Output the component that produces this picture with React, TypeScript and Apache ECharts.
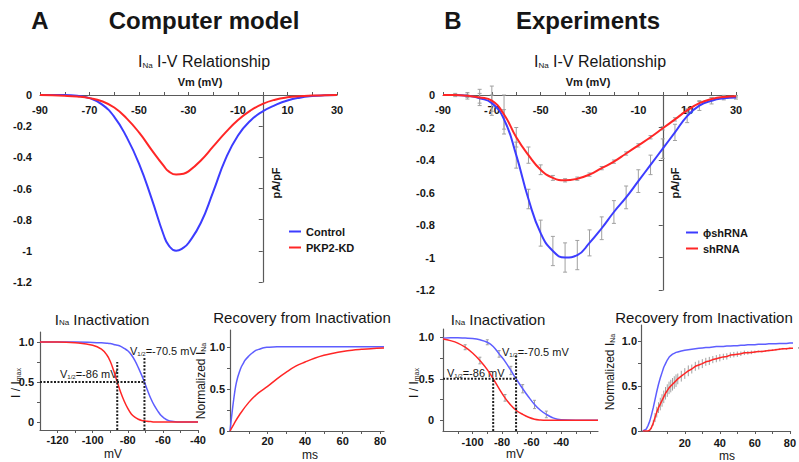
import React, { useEffect, useRef } from 'react';
import * as echarts from 'echarts';

const FONT = "Arial, 'Liberation Sans', Helvetica, sans-serif";
const BLUE = '#3c3cff';
const RED = '#ff2626';
const BLUE_L = '#5e5eff';
const GREY = '#a0a0a0';
const INK = '#161616';
const AXIS = '#5a5a5a';

// ---------- A: Computer model, I-V relationship ----------
const ivA_V = [-90, -80, -75, -70, -65, -60, -55, -50, -45, -40, -38, -35, -32, -30, -25, -20, -15, -10, -5, 0, 5, 10, 15, 20, 25, 30];
const ivA_control = [0, 0, -0.005, -0.02, -0.06, -0.14, -0.27, -0.44, -0.66, -0.9, -0.965, -1.0, -0.98, -0.95, -0.82, -0.62, -0.41, -0.26, -0.165, -0.105, -0.065, -0.035, -0.017, -0.007, -0.002, 0];
const ivA_pkp2 = [0, -0.005, -0.01, -0.02, -0.04, -0.08, -0.15, -0.24, -0.35, -0.455, -0.49, -0.51, -0.505, -0.49, -0.42, -0.33, -0.24, -0.16, -0.1, -0.057, -0.03, -0.015, -0.008, -0.004, -0.001, 0];

// ---------- B: Experiments, I-V relationship ----------
const ivB_V = [-90, -85, -80, -75, -70, -65, -60, -55, -50, -45, -40, -35, -30, -25, -20, -15, -10, -5, 0, 5, 10, 15, 20, 25, 30];
const ivB_phi = [0, 0, -0.005, -0.02, -0.05, -0.15, -0.37, -0.64, -0.85, -0.96, -1.0, -0.985, -0.91, -0.82, -0.72, -0.63, -0.53, -0.43, -0.33, -0.23, -0.13, -0.065, -0.035, -0.02, -0.015];
const ivB_phiErr = [0, 0, 0.01, 0.03, 0.05, 0.06, 0.08, 0.06, 0.08, 0.09, 0.09, 0.09, 0.08, 0.07, 0.07, 0.07, 0.07, 0.06, 0.06, 0.05, 0.04, 0.03, 0.02, 0.01, 0.01];
const ivB_sh = [0, 0, -0.005, -0.015, -0.035, -0.12, -0.26, -0.37, -0.46, -0.51, -0.525, -0.515, -0.49, -0.45, -0.41, -0.36, -0.31, -0.26, -0.205, -0.15, -0.095, -0.05, -0.025, -0.012, -0.008];
const ivB_shErr = [0, 0.01, 0.02, 0.05, 0.09, 0.12, 0.06, 0.05, 0.03, 0.015, 0.01, 0.01, 0.01, 0.01, 0.01, 0.01, 0.01, 0.01, 0.01, 0.01, 0.01, 0.01, 0.01, 0.01, 0.005];

const ivTicks = [-90, -80, -70, -60, -50, -40, -30, -20, -10, 0, 10, 20, 30];
const ivLabels = [-90, -70, -50, -30, -10, 10, 30];
const ivYTicks = [-1.2, -1, -0.8, -0.6, -0.4, -0.2, 0];

// ---------- A: Inactivation ----------
const inA_V = [-130, -120, -110, -100, -95, -92, -90, -88, -86, -84, -82, -80, -78, -76, -74, -72, -70.5, -69, -67, -65, -63, -61, -59, -57, -55, -50, -40];
const inA_control = [1, 1, 1, 0.995, 0.99, 0.985, 0.98, 0.97, 0.96, 0.945, 0.92, 0.89, 0.84, 0.77, 0.68, 0.58, 0.5, 0.41, 0.3, 0.21, 0.14, 0.08, 0.045, 0.02, 0.01, 0, 0];
const inA_pkp2 = [1, 1, 0.99, 0.96, 0.91, 0.84, 0.76, 0.64, 0.5, 0.37, 0.26, 0.17, 0.1, 0.06, 0.035, 0.02, 0.015, 0.01, 0.005, 0, 0, 0, 0, 0, 0, 0, 0];
const inA_xTicks = [-120, -110, -100, -90, -80, -70, -60, -50, -40];
const inA_xLabels = [-120, -100, -80, -60, -40];

// ---------- B: Inactivation ----------
const inB_V = [-120, -115, -110, -105, -100, -95, -90, -86, -82, -78, -74, -70.5, -66, -62, -58, -54, -50, -45, -40, -30, -15];
const inB_phi = [0.99, 0.995, 0.995, 0.99, 0.985, 0.97, 0.94, 0.89, 0.8, 0.71, 0.6, 0.5, 0.38, 0.28, 0.19, 0.12, 0.07, 0.025, 0.005, 0, 0];
const inB_phiErr = [0, 0, 0, 0, 0, 0, 0.03, 0, 0.04, 0, 0.05, 0, 0.05, 0, 0.05, 0, 0.04, 0, 0, 0, 0];
const inB_sh = [0.98, 0.96, 0.93, 0.88, 0.81, 0.72, 0.61, 0.5, 0.38, 0.27, 0.18, 0.12, 0.07, 0.035, 0.012, 0.003, 0, 0, 0, 0, 0];
const inB_shErr = [0, 0, 0, 0.03, 0, 0.04, 0, 0, 0, 0.04, 0, 0.03, 0, 0, 0, 0, 0, 0, 0, 0, 0];
const inB_xTicks = [-110, -100, -90, -80, -70, -60, -50, -40, -30, -20];
const inB_xLabels = [-100, -80, -60, -40];

const inYTicks = [0, 0.25, 0.5, 0.75, 1];
const inYLabels = [0, 0.5, 1];

// V1/2 markers
const halfV = [-86, -70.5];
const inA_dashTop = [0.75, 0.8];
const inB_dashTop = [0.5, 0.78];

// ---------- A: Recovery from inactivation ----------
const recA_T = [0, 1, 2, 3, 4, 5, 6, 7, 8, 10, 12, 14, 16, 18, 20, 25, 30, 40, 50, 60, 70, 82];
const recA_control = [0, 0.2, 0.38, 0.53, 0.63, 0.7, 0.76, 0.8, 0.84, 0.89, 0.93, 0.96, 0.975, 0.99, 0.995, 1, 1, 1, 1, 1, 1, 1];
const recA_pkp2T = [0, 2, 5, 10, 15, 20, 25, 30, 35, 40, 45, 50, 55, 60, 65, 70, 75, 82];
const recA_pkp2 = [0, 0.08, 0.19, 0.34, 0.45, 0.53, 0.62, 0.7, 0.77, 0.82, 0.865, 0.9, 0.925, 0.945, 0.96, 0.97, 0.978, 0.985];

// ---------- B: Recovery from inactivation ----------
const recB_T = [-4, -2, -1, 0, 1, 2, 3, 4, 5, 6, 7, 8, 9, 10, 11, 12, 13, 14, 15, 16, 18, 20, 22, 24, 26, 28, 30, 32, 34, 36, 38, 40, 42, 44, 46, 48, 50, 52, 54, 56, 58, 60, 62, 64, 66, 68, 70, 72, 74, 76, 78, 80, 85];
const recB_phi = [0, 0.02, 0.06, 0.11, 0.18, 0.26, 0.35, 0.44, 0.52, 0.59, 0.65, 0.71, 0.75, 0.79, 0.82, 0.84, 0.855, 0.865, 0.875, 0.88, 0.89, 0.9, 0.905, 0.91, 0.915, 0.92, 0.925, 0.93, 0.93, 0.935, 0.94, 0.94, 0.94, 0.945, 0.945, 0.95, 0.95, 0.955, 0.955, 0.96, 0.96, 0.96, 0.965, 0.965, 0.965, 0.97, 0.97, 0.97, 0.975, 0.975, 0.975, 0.98, 0.98];
const recB_sh = [0, 0, 0, 0.01, 0.04, 0.09, 0.15, 0.21, 0.26, 0.3, 0.34, 0.38, 0.42, 0.45, 0.48, 0.5, 0.52, 0.54, 0.56, 0.58, 0.61, 0.64, 0.67, 0.69, 0.72, 0.735, 0.75, 0.77, 0.78, 0.795, 0.805, 0.815, 0.825, 0.83, 0.845, 0.85, 0.855, 0.86, 0.87, 0.87, 0.875, 0.88, 0.885, 0.885, 0.89, 0.895, 0.9, 0.905, 0.91, 0.915, 0.915, 0.92, 0.925];
const recB_shErr = [0, 0, 0, 0.01, 0.02, 0.03, 0.05, 0.06, 0.06, 0.07, 0.07, 0.07, 0.07, 0.07, 0.07, 0.07, 0.07, 0.07, 0.07, 0.06, 0.06, 0.06, 0.06, 0.05, 0.05, 0.05, 0.05, 0.045, 0.045, 0.04, 0.04, 0.04, 0.035, 0.035, 0.03, 0.03, 0.03, 0.025, 0.025, 0.02, 0.02, 0.015, 0.01, 0.01, 0.01, 0.01, 0.01, 0.01, 0.01, 0.01, 0.01, 0.01, 0.01];

const recTicks = [10, 20, 30, 40, 50, 60, 70, 80];
const recLabels = [20, 40, 60, 80];
const recYLabels = [0, 0.5, 1];

const zip = (xs: number[], ys: number[]) => xs.map((x, i) => [x, ys[i]]);
const errData = (xs: number[], ys: number[], es: number[]) =>
  xs.map((x, i) => [x, ys[i] - es[i], ys[i] + es[i], es[i]]).filter((d) => d[3] > 0);

function mkAxis(o: any) {
  const label: any = {
    show: true,
    margin: o.margin,
    inside: !!o.inside,
    formatter: o.fmt,
    fontFamily: FONT,
    fontSize: o.fontSize ?? 11,
    fontWeight: 'bold',
    color: INK,
    hideOverlap: false,
    showMinLabel: true,
    showMaxLabel: true,
  };
  if (o.labels) label.customValues = o.labels;
  return {
    type: 'value',
    gridIndex: o.grid,
    min: o.min,
    max: o.max,
    position: o.position,
    splitLine: { show: false },
    axisLine: { show: true, onZero: !!o.onZero, lineStyle: { color: AXIS, width: 1.2 } },
    axisTick: { show: true, customValues: o.ticks, length: o.tickLen ?? 3, lineStyle: { color: AXIS, width: 1 } },
    axisLabel: label,
  };
}

const fmt1 = (v: number) => (Math.abs(v) < 1e-9 ? '0' : v.toFixed(1));
const fmtIV = (v: number) => String(+v.toFixed(1));

function lineSeries(name: string, x: number, y: number, data: number[][], color: string, width: number, smooth: boolean | number) {
  return {
    type: 'line',
    name,
    xAxisIndex: x,
    yAxisIndex: y,
    data,
    color,
    showSymbol: false,
    symbol: 'none',
    smooth,
    lineStyle: { color, width },
    z: 3,
    silent: true,
  };
}

function dashSeries(x: number, y: number, data: number[][]) {
  return {
    type: 'line',
    xAxisIndex: x,
    yAxisIndex: y,
    data,
    showSymbol: false,
    symbol: 'none',
    lineStyle: { color: '#202020', width: 2, type: [2, 1.5] },
    z: 4,
    silent: true,
  };
}

function errSeries(x: number, y: number, data: number[][], cap: number) {
  return {
    type: 'custom',
    xAxisIndex: x,
    yAxisIndex: y,
    data,
    z: 2,
    silent: true,
    encode: { x: 0, y: [1, 2] },
    renderItem: (_p: any, api: any) => {
      const xv = api.value(0);
      const a = api.coord([xv, api.value(1)]);
      const b = api.coord([xv, api.value(2)]);
      const st = { stroke: GREY, lineWidth: 1 };
      const children: any[] = [{ type: 'line', shape: { x1: a[0], y1: a[1], x2: b[0], y2: b[1] }, style: st }];
      if (cap > 0) {
        children.push({ type: 'line', shape: { x1: a[0] - cap, y1: a[1], x2: a[0] + cap, y2: a[1] }, style: st });
        children.push({ type: 'line', shape: { x1: b[0] - cap, y1: b[1], x2: b[0] + cap, y2: b[1] }, style: st });
      }
      return { type: 'group', children };
    },
  };
}

function txt(x: number, y: number, text: string, o: any = {}) {
  const size = o.size ?? 12;
  const weight = o.weight ?? 'normal';
  const align = o.align ?? 'center';
  const style: any = {
    text,
    fill: INK,
    fontSize: size,
    fontFamily: FONT,
    fontWeight: weight,
    align,
    textAlign: align,
    verticalAlign: 'middle',
    textVerticalAlign: 'middle',
  };
  if (o.sub) {
    const ss = o.subSize ?? Math.round(size * 0.55);
    style.rich = {
      m: { fontSize: size, fontFamily: FONT, fontWeight: weight, fill: INK, lineHeight: size + 4, verticalAlign: 'bottom' },
      s: { fontSize: ss, fontFamily: FONT, fontWeight: weight, fill: INK, lineHeight: ss + 1, verticalAlign: 'bottom' },
    };
  }
  return { type: 'text', x, y, rotation: o.rot ?? 0, silent: true, style };
}

function buildOption() {
  const grids = [
    { left: 40, top: 95, width: 297, height: 187 },
    { left: 443, top: 95, width: 293, height: 195 },
    { left: 40, top: 332, width: 158, height: 98 },
    { left: 230, top: 330, width: 154, height: 101 },
    { left: 443, top: 329, width: 155, height: 102 },
    { left: 641, top: 325, width: 158, height: 106 },
  ];

  const xAxis = [
    mkAxis({ grid: 0, min: -90, max: 30, position: 'top', onZero: true, inside: true, ticks: ivTicks, labels: ivLabels, margin: 9, tickLen: 3 }),
    mkAxis({ grid: 1, min: -90, max: 30, position: 'top', onZero: true, inside: true, ticks: ivTicks, labels: ivLabels, margin: 9, tickLen: 3 }),
    mkAxis({ grid: 2, min: -130, max: -40, position: 'bottom', ticks: inA_xTicks, labels: inA_xLabels, margin: 4 }),
    mkAxis({ grid: 3, min: 0, max: 82, position: 'bottom', ticks: recTicks, labels: recLabels, margin: 4 }),
    mkAxis({ grid: 4, min: -120, max: -15, position: 'bottom', ticks: inB_xTicks, labels: inB_xLabels, margin: 5 }),
    mkAxis({ grid: 5, min: -5, max: 80.4, position: 'bottom', ticks: recTicks, labels: recLabels, margin: 6 }),
  ];
  const yAxis = [
    mkAxis({ grid: 0, min: -1.2, max: 0, position: 'left', onZero: true, ticks: ivYTicks, labels: ivYTicks, margin: 8, fmt: fmtIV, tickLen: 4 }),
    mkAxis({ grid: 1, min: -1.2, max: 0, position: 'left', onZero: true, ticks: ivYTicks, labels: ivYTicks, margin: 8, fmt: fmtIV, tickLen: 4 }),
    mkAxis({ grid: 2, min: -0.1, max: 1.125, position: 'left', ticks: inYTicks, labels: inYLabels, margin: 6, fmt: fmt1 }),
    mkAxis({ grid: 3, min: 0, max: 1.2, position: 'left', ticks: inYTicks, labels: recYLabels, margin: 5, fmt: fmt1 }),
    mkAxis({ grid: 4, min: -0.13, max: 1.1, position: 'left', ticks: inYTicks, labels: inYLabels, margin: 9, fmt: fmt1 }),
    mkAxis({ grid: 5, min: 0, max: 1.18, position: 'left', ticks: inYTicks, labels: recYLabels, margin: 4, fmt: fmt1 }),
  ];

  const series: any[] = [
    // A I-V
    lineSeries('Control', 0, 0, zip(ivA_V, ivA_control), BLUE, 2, 0.5),
    lineSeries('PKP2-KD', 0, 0, zip(ivA_V, ivA_pkp2), RED, 2, 0.5),
    // B I-V
    errSeries(1, 1, errData(ivB_V, ivB_phi, ivB_phiErr), 2),
    errSeries(1, 1, errData(ivB_V, ivB_sh, ivB_shErr), 2),
    lineSeries('ϕshRNA', 1, 1, zip(ivB_V, ivB_phi), BLUE, 2, 0.5),
    lineSeries('shRNA', 1, 1, zip(ivB_V, ivB_sh), RED, 2, 0.5),
    // A inactivation
    lineSeries('Control inact', 2, 2, zip(inA_V, inA_control), BLUE_L, 1.5, 0.4),
    lineSeries('PKP2-KD inact', 2, 2, zip(inA_V, inA_pkp2), RED, 1.5, 0.4),
    dashSeries(2, 2, [[halfV[0], -0.1], [halfV[0], inA_dashTop[0]]]),
    dashSeries(2, 2, [[halfV[1], -0.1], [halfV[1], inA_dashTop[1]]]),
    dashSeries(2, 2, [[-130, 0.5], [halfV[1], 0.5]]),
    // A recovery
    lineSeries('Control rec', 3, 3, zip(recA_T, recA_control), BLUE_L, 1.5, 0.4),
    lineSeries('PKP2-KD rec', 3, 3, zip(recA_pkp2T, recA_pkp2), RED, 1.5, 0.4),
    // B inactivation
    errSeries(4, 4, errData(inB_V, inB_phi, inB_phiErr), 1.5),
    errSeries(4, 4, errData(inB_V, inB_sh, inB_shErr), 1.5),
    lineSeries('ϕshRNA inact', 4, 4, zip(inB_V, inB_phi), BLUE_L, 1.5, 0.4),
    lineSeries('shRNA inact', 4, 4, zip(inB_V, inB_sh), RED, 1.5, 0.4),
    dashSeries(4, 4, [[halfV[0], -0.13], [halfV[0], inB_dashTop[0]]]),
    dashSeries(4, 4, [[halfV[1], -0.13], [halfV[1], inB_dashTop[1]]]),
    dashSeries(4, 4, [[-120, 0.5], [halfV[1], 0.5]]),
    // B recovery
    errSeries(5, 5, errData(recB_T, recB_sh, recB_shErr), 0),
    lineSeries('ϕshRNA rec', 5, 5, zip(recB_T, recB_phi), BLUE_L, 1.5, false),
    lineSeries('shRNA rec', 5, 5, zip(recB_T, recB_sh), RED, 1.5, false),
  ];

  const legendText = { fontFamily: FONT, fontSize: 11, fontWeight: 'bold', color: INK };
  const legend = [
    { data: ['Control', 'PKP2-KD'], left: 289, top: 226, orient: 'vertical', icon: 'rect', itemWidth: 12, itemHeight: 2, itemGap: 5, selectedMode: false, textStyle: legendText, padding: 0 },
    { data: ['ϕshRNA', 'shRNA'], left: 686, top: 227, orient: 'vertical', icon: 'rect', itemWidth: 12, itemHeight: 2, itemGap: 5, selectedMode: false, textStyle: legendText, padding: 0 },
  ];

  const graphic = [
    txt(40, 20, 'A', { size: 24, weight: 'bold' }),
    txt(204, 20, 'Computer model', { size: 24, weight: 'bold' }),
    txt(453, 20, 'B', { size: 24, weight: 'bold' }),
    txt(588, 20, 'Experiments', { size: 24, weight: 'bold' }),
    txt(204, 59, '{m|I}{s|Na}{m| I-V Relationship}', { size: 16, sub: true, subSize: 8 }),
    txt(600, 59, '{m|I}{s|Na}{m| I-V Relationship}', { size: 16, sub: true, subSize: 8 }),
    txt(200, 82, 'Vm (mV)', { size: 11, weight: 'bold' }),
    txt(588, 82, 'Vm (mV)', { size: 11, weight: 'bold' }),
    txt(276, 183, 'pA/pF', { size: 11, weight: 'bold', rot: Math.PI / 2 }),
    txt(675, 183, 'pA/pF', { size: 11, weight: 'bold', rot: Math.PI / 2 }),
    txt(102, 317, '{m|I}{s|Na}{m| Inactivation}', { size: 15, sub: true, subSize: 8 }),
    txt(302, 317, 'Recovery from Inactivation', { size: 15 }),
    txt(498, 317, '{m|I}{s|Na}{m| Inactivation}', { size: 15, sub: true, subSize: 8 }),
    txt(704, 317, 'Recovery from Inactivation', { size: 15 }),
    txt(14, 383, '{m|I / I}{s|max}', { size: 12, sub: true, subSize: 7, rot: Math.PI / 2 }),
    txt(199, 381, '{m|Normalized I}{s|Na}', { size: 12, sub: true, subSize: 7, rot: Math.PI / 2 }),
    txt(412, 383, '{m|I / I}{s|max}', { size: 12, sub: true, subSize: 7, rot: Math.PI / 2 }),
    txt(608, 372, '{m|Normalized I}{s|Na}', { size: 12, sub: true, subSize: 7, rot: Math.PI / 2 }),
    txt(113, 454, 'mV', { size: 12 }),
    txt(310, 455, 'ms', { size: 12 }),
    txt(515, 454, 'mV', { size: 12 }),
    txt(727, 456, 'ms', { size: 12 }),
    txt(130, 349, '{m|V}{s|1/2}{m|=-70.5 mV}', { size: 11, sub: true, subSize: 6, align: 'left' }),
    txt(60, 372, '{m|V}{s|1/2}{m|=-86 mV}', { size: 11, sub: true, subSize: 6, align: 'left' }),
    txt(502, 350, '{m|V}{s|1/2}{m|=-70.5 mV}', { size: 11, sub: true, subSize: 6, align: 'left' }),
    txt(447, 371, '{m|V}{s|1/2}{m|=-86 mV}', { size: 11, sub: true, subSize: 6, align: 'left' }),
  ];

  return {
    animation: false,
    backgroundColor: '#ffffff',
    textStyle: { fontFamily: FONT },
    grid: grids,
    xAxis,
    yAxis,
    legend,
    series,
    graphic,
  };
}

export default function App() {
  const ref = useRef<HTMLDivElement>(null);
  useEffect(() => {
    if (!ref.current) return;
    const chart = echarts.init(ref.current, undefined, { renderer: 'svg' });
    chart.setOption(buildOption() as any);
    return () => chart.dispose();
  }, []);
  return (
    <div
      ref={ref}
      style={{ position: 'absolute', left: 0, top: 0, width: 799, height: 462, background: '#fff' }}
    />
  );
}
